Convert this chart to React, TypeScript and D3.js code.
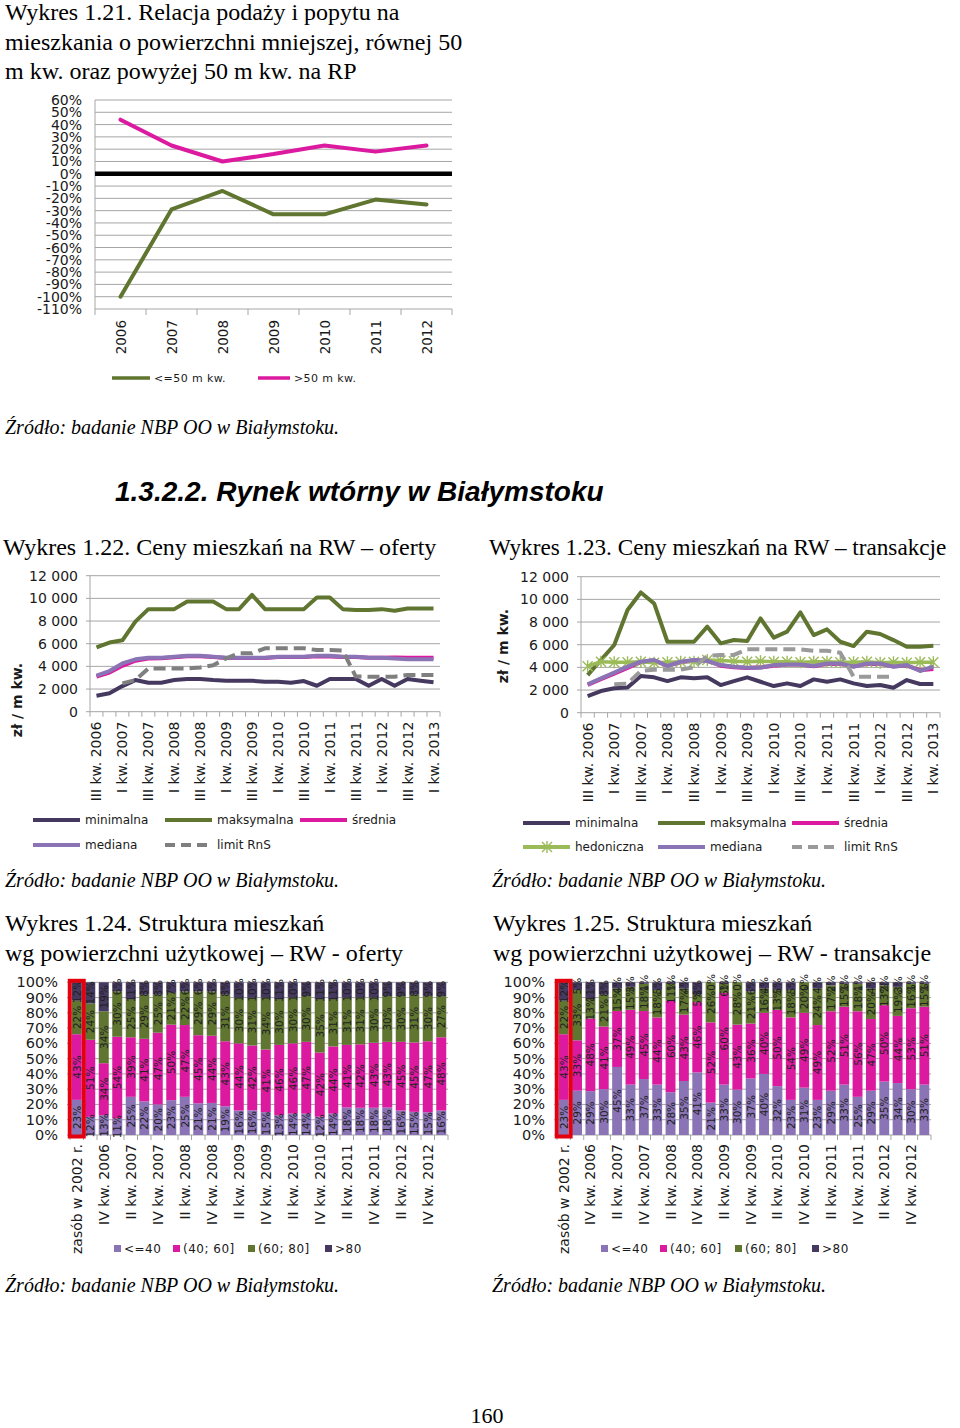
import React from "react";
import * as d3 from "d3";

const SANS = "'DejaVu Sans', Verdana, sans-serif";
const SERIF = "'Liberation Serif', 'Times New Roman', serif";

const C_GREEN = "#5f7530";
const C_MAGENTA = "#dc1aa0";
const C_LILAC = "#8a74b6";
const C_DARK = "#46395f";
const C_GRAY = "#7f7f7f";
const C_HEDON = "#9bbb59";
const C_GRID = "#a6a6a6";
const C_TEXT = "#1a1a1a";

// ---------- Wykres 1.21
const years = ["2006", "2007", "2008", "2009", "2010", "2011", "2012"];
const pctTicks = [60, 50, 40, 30, 20, 10, 0, -10, -20, -30, -40, -50, -60, -70, -80, -90, -100, -110];
const upTo50 = [-100, -29, -14, -33, -33, -21, -25];
const over50 = [44, 23, 10, 16, 23, 18, 23];

// ---------- Wykres 1.22 / 1.23
const quarters = [
  "III kw. 2006", "IV kw. 2006",
  "I kw. 2007", "II kw. 2007", "III kw. 2007", "IV kw. 2007",
  "I kw. 2008", "II kw. 2008", "III kw. 2008", "IV kw. 2008",
  "I kw. 2009", "II kw. 2009", "III kw. 2009", "IV kw. 2009",
  "I kw. 2010", "II kw. 2010", "III kw. 2010", "IV kw. 2010",
  "I kw. 2011", "II kw. 2011", "III kw. 2011", "IV kw. 2011",
  "I kw. 2012", "II kw. 2012", "III kw. 2012", "IV kw. 2012",
  "I kw. 2013",
];
const priceTicks = [0, 2000, 4000, 6000, 8000, 10000, 12000];

const offerMin = [1410, 1620, 2260, 2790, 2560, 2560, 2790, 2880, 2880, 2790, 2730, 2730, 2730, 2650, 2650, 2560, 2700, 2290, 2880, 2880, 2880, 2290, 2880, 2290, 2880, 2730, 2590];
const offerMax = [5670, 6100, 6300, 7950, 9050, 9050, 9050, 9730, 9730, 9730, 9050, 9050, 10300, 9050, 9050, 9050, 9050, 10080, 10080, 9050, 8970, 8970, 9050, 8900, 9100, 9100, 9100];
const offerMean = [3100, 3450, 4050, 4500, 4700, 4720, 4800, 4900, 4900, 4820, 4730, 4730, 4730, 4740, 4820, 4830, 4830, 4900, 4880, 4820, 4820, 4760, 4760, 4780, 4750, 4750, 4750];
const offerMedian = [3180, 3590, 4260, 4620, 4760, 4760, 4850, 4940, 4940, 4850, 4760, 4760, 4760, 4760, 4850, 4850, 4850, 4940, 4940, 4850, 4850, 4760, 4760, 4700, 4620, 4620, 4620];
const offerLimit = [null, null, 2500, 2800, 3820, 3820, 3820, 3820, 3900, 4100, 4700, 5150, 5150, 5590, 5590, 5590, 5590, 5440, 5440, 5400, 3100, 3090, 3090, 3090, 3230, 3230, 3230];

const transMin = [1470, 1910, 2150, 2230, 3230, 3120, 2790, 3120, 3030, 3120, 2440, 2790, 3120, 2730, 2350, 2590, 2350, 2940, 2730, 2940, 2590, 2350, 2440, 2200, 2880, 2530, 2530];
const transMax = [3320, 4650, 5970, 9060, 10610, 9640, 6260, 6260, 6260, 7590, 6120, 6410, 6320, 8320, 6620, 7150, 8850, 6850, 7350, 6260, 5880, 7150, 6940, 6410, 5820, 5820, 5910];
const transMean = [2450, 2950, 3450, 3950, 4450, 4600, 4150, 4450, 4600, 4600, 4150, 4000, 3950, 4000, 4150, 4250, 4250, 4100, 4300, 4300, 4100, 4300, 4300, 4100, 4150, 3750, 3850];
const transHedonic = [4100, 4500, 4450, 4450, 4500, 4400, 4450, 4500, 4500, 4650, 4600, 4550, 4500, 4550, 4500, 4500, 4450, 4500, 4500, 4450, 4450, 4500, 4400, 4450, 4400, 4450, 4450];
const transMedian = [2500, 3030, 3530, 4060, 4500, 4650, 4120, 4500, 4650, 4560, 4200, 4060, 3970, 3970, 4200, 4260, 4260, 4120, 4350, 4350, 4060, 4350, 4350, 4060, 4200, 3680, 4060];
const transLimit = [null, null, 2500, 2550, 3700, 3800, 3800, 3800, 4000, 5000, 5100, 5100, 5590, 5590, 5590, 5590, 5590, 5470, 5470, 5290, 3180, 3180, 3180, 3180, null, null, null];

// ---------- Wykres 1.24 / 1.25
const stackCats = ["zasób w 2002 r.", ...quarters];
const shareTicks = [0, 10, 20, 30, 40, 50, 60, 70, 80, 90, 100];
const sizeKeys = ["<=40", "(40; 60]", "(60; 80]", ">80"];
const sizeColors = [C_LILAC, C_MAGENTA, C_GREEN, C_DARK];

const offerLe40 = [23, 12, 13, 11, 25, 22, 20, 23, 25, 21, 21, 19, 16, 16, 15, 13, 14, 14, 12, 14, 18, 18, 18, 18, 16, 15, 15, 16];
const offer40to60 = [43, 51, 34, 54, 39, 41, 47, 50, 47, 45, 44, 43, 44, 42, 41, 46, 46, 47, 42, 44, 41, 42, 43, 43, 45, 45, 47, 48];
const offer60to80 = [22, 24, 34, 30, 25, 29, 25, 21, 22, 29, 29, 31, 30, 31, 34, 30, 30, 30, 35, 31, 31, 31, 30, 30, 30, 31, 30, 27];
const offerGt80 = [12, 14, 19, 6, 11, 8, 8, 7, 6, 6, 6, 8, 10, 10, 10, 11, 10, 9, 11, 11, 10, 10, 10, 9, 9, 8, 9, 9];

const transLe40 = [23, 29, 29, 30, 45, 33, 37, 33, 28, 35, 41, 21, 33, 30, 37, 40, 32, 23, 31, 23, 29, 33, 25, 29, 35, 34, 30, 33];
const trans40to60 = [43, 33, 48, 41, 37, 49, 45, 44, 60, 43, 46, 52, 60, 43, 36, 40, 50, 54, 49, 49, 52, 51, 56, 47, 50, 44, 53, 51];
const trans60to80 = [22, 33, 13, 21, 15, 15, 18, 18, 11, 17, 5, 26, 6, 28, 21, 16, 13, 18, 20, 24, 17, 15, 18, 20, 13, 19, 16, 15];
const transGt80 = [12, 5, 11, 8, 4, 3, 1, 5, 1, 4, 8, 0, 1, 0, 6, 4, 5, 5, 0, 4, 2, 1, 1, 4, 2, 3, 1, 1];

const fmtThousands = d3.formatLocale({ thousands: "\u00a0", grouping: [3], decimal: ",", currency: ["", ""] }).format(",");

type Series = { values: (number | null)[]; color: string; width?: number; dash?: string; marker?: boolean };

function Chart21() {
  const left = 95, right = 452, top = 100, bottom = 309;
  const x = d3.scaleBand().domain(years).range([left, right]);
  const y = d3.scaleLinear().domain([-110, 60]).range([bottom, top]);
  const cx = (i: number) => (x(years[i]) as number) + x.bandwidth() / 2;
  const line = d3.line<number>().x((_, i) => cx(i)).y(d => y(d));
  return (
    <g>
      {pctTicks.map(t => (
        <line key={"g" + t} x1={left} x2={right} y1={y(t)} y2={y(t)} stroke={C_GRID} />
      ))}
      <line x1={left} x2={left} y1={top} y2={bottom} stroke={C_GRID} />
      {years.map(yr => (
        <line key={"t" + yr} x1={x(yr)} x2={x(yr)} y1={bottom} y2={bottom + 6} stroke={C_GRID} />
      ))}
      <line x1={right} x2={right} y1={bottom} y2={bottom + 6} stroke={C_GRID} />
      <line x1={left} x2={right} y1={y(0)} y2={y(0)} stroke="#000" strokeWidth={4.5} />
      {pctTicks.map(t => (
        <text key={"l" + t} x={left - 13} y={y(t)} textAnchor="end" dominantBaseline="central" fontSize={14} fill={C_TEXT}>
          {t + "%"}
        </text>
      ))}
      {years.map((yr, i) => (
        <text key={"x" + yr} transform={`translate(${cx(i)},${bottom + 11}) rotate(-90)`} textAnchor="end" dominantBaseline="central" fontSize={13.5} fill={C_TEXT}>
          {yr}
        </text>
      ))}
      <path d={line(upTo50) || ""} fill="none" stroke={C_GREEN} strokeWidth={4} strokeLinejoin="round" strokeLinecap="round" />
      <path d={line(over50) || ""} fill="none" stroke={C_MAGENTA} strokeWidth={4} strokeLinejoin="round" strokeLinecap="round" />
      <line x1={112} x2={150} y1={378} y2={378} stroke={C_GREEN} strokeWidth={3.5} />
      <text x={154} y={378} dominantBaseline="central" fontSize={11} letterSpacing={0.4} fill={C_TEXT}>{"<=50 m kw."}</text>
      <line x1={258} x2={290} y1={378} y2={378} stroke={C_MAGENTA} strokeWidth={3.5} />
      <text x={294} y={378} dominantBaseline="central" fontSize={11} letterSpacing={0.4} fill={C_TEXT}>{">50 m kw."}</text>
    </g>
  );
}

function Asterisk({ x, y, color }: { x: number; y: number; color: string }) {
  const s = 5;
  return (
    <g stroke={color} strokeWidth={1.4}>
      <line x1={x - s} x2={x + s} y1={y - s} y2={y + s} />
      <line x1={x - s} x2={x + s} y1={y + s} y2={y - s} />
      <line x1={x} x2={x} y1={y - s - 1} y2={y + s + 1} />
    </g>
  );
}

function PriceChart({ left, right, top, bottom, series, titleX, titleY }: { left: number; right: number; top: number; bottom: number; series: Series[]; titleX: number; titleY: number }) {
  const x = d3.scaleBand().domain(quarters).range([left, right]);
  const y = d3.scaleLinear().domain([0, 12000]).range([bottom, top]);
  const cx = (i: number) => (x(quarters[i]) as number) + x.bandwidth() / 2;
  const line = d3.line<number | null>().defined(d => d != null).x((_, i) => cx(i)).y(d => y(d as number));
  return (
    <g>
      {priceTicks.map(t => (
        <line key={"g" + t} x1={left} x2={right} y1={y(t)} y2={y(t)} stroke={C_GRID} />
      ))}
      <line x1={left} x2={left} y1={top} y2={bottom} stroke={C_GRID} />
      {priceTicks.map(t => (
        <line key={"k" + t} x1={left - 4} x2={left} y1={y(t)} y2={y(t)} stroke={C_GRID} />
      ))}
      {quarters.map(q => (
        <line key={"t" + q} x1={x(q)} x2={x(q)} y1={bottom} y2={bottom + 5} stroke={C_GRID} />
      ))}
      <line x1={right} x2={right} y1={bottom} y2={bottom + 5} stroke={C_GRID} />
      {priceTicks.map(t => (
        <text key={"l" + t} x={left - 12} y={y(t)} textAnchor="end" dominantBaseline="central" fontSize={14} fill={C_TEXT}>
          {fmtThousands(t)}
        </text>
      ))}
      {quarters.map((q, i) => i % 2 === 0 ? (
        <text key={"x" + q} transform={`translate(${cx(i)},${bottom + 10}) rotate(-90)`} textAnchor="end" dominantBaseline="central" fontSize={14} fill={C_TEXT}>
          {q}
        </text>
      ) : null)}
      {series.map((s, si) => (
        <g key={"s" + si}>
          <path d={line(s.values) || ""} fill="none" stroke={s.color} strokeWidth={s.width || 4} strokeDasharray={s.dash} strokeLinejoin="round" />
          {s.marker && s.values.map((v, i) => v == null ? null : <Asterisk key={i} x={cx(i)} y={y(v)} color={s.color} />)}
        </g>
      ))}
      <text transform={`translate(${titleX},${titleY}) rotate(-90)`} textAnchor="middle" dominantBaseline="central" fontSize={14} fontWeight="bold" fill={C_TEXT}>
        zł / m kw.
      </text>
    </g>
  );
}

type LegendItem = { x: number; y: number; color: string; label: string; dash?: string; marker?: boolean };

function LineLegend({ items }: { items: LegendItem[] }) {
  return (
    <g>
      {items.map(it => (
        <g key={it.label}>
          <line x1={it.x} x2={it.x + 47} y1={it.y} y2={it.y} stroke={it.color} strokeWidth={4} strokeDasharray={it.dash} />
          {it.marker && <Asterisk x={it.x + 24} y={it.y} color={it.color} />}
          <text x={it.x + 52} y={it.y} dominantBaseline="central" fontSize={12} fill={C_TEXT}>{it.label}</text>
        </g>
      ))}
    </g>
  );
}

function StackChart({ left, right, top, bottom, cols }: { left: number; right: number; top: number; bottom: number; cols: number[][] }) {
  const rows = stackCats.map((c, i) => {
    const r: any = { cat: c };
    sizeKeys.forEach((k, j) => { r[k] = cols[j][i]; });
    return r;
  });
  const stacked = d3.stack<any>().keys(sizeKeys).offset(d3.stackOffsetExpand)(rows);
  const x = d3.scaleBand().domain(stackCats).range([left, right]).paddingInner(0.26).paddingOuter(0.13);
  const y = d3.scaleLinear().domain([0, 1]).range([bottom, top]);
  const step = x.step();
  const bw = x.bandwidth();
  return (
    <g>
      {shareTicks.map(t => (
        <line key={"g" + t} x1={left - 3} x2={right} y1={y(t / 100)} y2={y(t / 100)} stroke={C_GRID} />
      ))}
      {stackCats.map((c, i) => (
        <line key={"t" + i} x1={left + i * step} x2={left + i * step} y1={bottom} y2={bottom + 5} stroke={C_GRID} />
      ))}
      <line x1={right} x2={right} y1={bottom} y2={bottom + 5} stroke={C_GRID} />
      {shareTicks.map(t => (
        <text key={"l" + t} x={left - 12} y={y(t / 100)} textAnchor="end" dominantBaseline="central" fontSize={14.5} fill={C_TEXT}>
          {t + "%"}
        </text>
      ))}
      {stacked.map((layer, li) => (
        <g key={layer.key} fill={sizeColors[li]}>
          {layer.map((d, i) => (
            <rect key={i} x={x(stackCats[i])} width={bw} y={y(d[1])} height={Math.max(0, y(d[0]) - y(d[1]))} />
          ))}
        </g>
      ))}
      {stacked.map((layer, li) => (
        <g key={"lab" + layer.key}>
          {layer.map((d, i) => {
            const cx = (x(stackCats[i]) as number) + bw / 2;
            const cy = (y(d[0]) + y(d[1])) / 2;
            return (
              <text key={i} transform={`translate(${cx},${cy}) rotate(-90)`} textAnchor="middle" dominantBaseline="central" fontSize={10.5} fill="#222">
                {cols[li][i] + "%"}
              </text>
            );
          })}
        </g>
      ))}
      <rect x={(x(stackCats[0]) as number) - 2} y={top - 1.5} width={bw + 4} height={bottom - top + 3} fill="none" stroke="#e3000f" strokeWidth={4} />
      {stackCats.map((c, i) => i % 2 === 0 ? (
        <text key={"x" + i} transform={`translate(${(x(c) as number) + bw / 2},${bottom + 9}) rotate(-90)`} textAnchor="end" dominantBaseline="central" fontSize={14} fill={C_TEXT}>
          {c}
        </text>
      ) : null)}
      {sizeKeys.map((k, i) => {
        const lx = [left + 44, left + 103, left + 178, left + 255][i];
        return (
          <g key={"leg" + k}>
            <rect x={lx} y={1245} width={7} height={7} fill={sizeColors[i]} />
            <text x={lx + 10} y={1249} dominantBaseline="central" fontSize={12} letterSpacing={0.5} fill={C_TEXT}>{k}</text>
          </g>
        );
      })}
    </g>
  );
}

function Title({ x, y, lines, size = 24 }: { x: number; y: number; lines: string[]; size?: number }) {
  return (
    <text x={x} y={y} fontFamily={SERIF} fontSize={size} fill="#000">
      {lines.map((l, i) => (
        <tspan key={i} x={x} dy={i === 0 ? 0 : 29.5}>{l}</tspan>
      ))}
    </text>
  );
}

function Source({ x, y }: { x: number; y: number }) {
  return (
    <text x={x} y={y} fontFamily={SERIF} fontStyle="italic" fontSize={20} fill="#000">
      Źródło: badanie NBP OO w Białymstoku.
    </text>
  );
}

export default function App() {
  return (
    <svg width={960} height={1428} viewBox="0 0 960 1428" fontFamily={SANS}
      style={{ position: "absolute", left: 0, top: 0, background: "#fff" }}>
      <rect width={960} height={1428} fill="#fff" />
      <Title x={5} y={20} lines={["Wykres 1.21. Relacja podaży i popytu na", "mieszkania o powierzchni mniejszej, równej 50", "m kw. oraz powyżej 50 m kw. na RP"]} />
      <Chart21 />
      <Source x={5} y={434} />

      <text x={115} y={501} fontFamily="'Liberation Sans', Arial, sans-serif" fontWeight="bold" fontStyle="italic" fontSize={28} fill="#000">
        1.3.2.2. Rynek wtórny w Białymstoku
      </text>

      <Title x={3} y={555} lines={["Wykres 1.22. Ceny mieszkań na RW – oferty"]} />
      <PriceChart left={90} right={440} top={575.7} bottom={711.7} titleX={17} titleY={700}
        series={[
          { values: offerMin, color: C_DARK },
          { values: offerMax, color: C_GREEN },
          { values: offerMean, color: C_MAGENTA },
          { values: offerMedian, color: C_LILAC },
          { values: offerLimit, color: C_GRAY, dash: "12 6" },
        ]} />
      <LineLegend items={[
        { x: 33, y: 820, color: C_DARK, label: "minimalna" },
        { x: 165, y: 820, color: C_GREEN, label: "maksymalna" },
        { x: 300, y: 820, color: C_MAGENTA, label: "średnia" },
        { x: 33, y: 845, color: C_LILAC, label: "mediana" },
        { x: 165, y: 845, color: C_GRAY, label: "limit RnS", dash: "10 6" },
      ]} />
      <Source x={5} y={887} />

      <Title x={489} y={555} size={23.2} lines={["Wykres 1.23. Ceny mieszkań na RW – transakcje"]} />
      <PriceChart left={581} right={940} top={576.7} bottom={712.7} titleX={503} titleY={646}
        series={[
          { values: transMin, color: C_DARK },
          { values: transMax, color: C_GREEN },
          { values: transMean, color: C_MAGENTA },
          { values: transHedonic, color: C_HEDON, width: 3.5, marker: true },
          { values: transMedian, color: C_LILAC },
          { values: transLimit, color: "#9a9a9a", dash: "12 6" },
        ]} />
      <LineLegend items={[
        { x: 523, y: 823, color: C_DARK, label: "minimalna" },
        { x: 658, y: 823, color: C_GREEN, label: "maksymalna" },
        { x: 792, y: 823, color: C_MAGENTA, label: "średnia" },
        { x: 523, y: 847, color: C_HEDON, label: "hedoniczna", marker: true },
        { x: 658, y: 847, color: C_LILAC, label: "mediana" },
        { x: 792, y: 847, color: "#9a9a9a", label: "limit RnS", dash: "10 6" },
      ]} />
      <Source x={492} y={887} />

      <Title x={5} y={931} lines={["Wykres 1.24. Struktura mieszkań", "wg powierzchni użytkowej – RW - oferty"]} />
      <StackChart left={70} right={448} top={982.3} bottom={1135}
        cols={[offerLe40, offer40to60, offer60to80, offerGt80]} />
      <Source x={5} y={1292} />

      <Title x={493} y={931} lines={["Wykres 1.25. Struktura mieszkań", "wg powierzchni użytkowej – RW - transakcje"]} />
      <StackChart left={557} right={931} top={982.3} bottom={1135}
        cols={[transLe40, trans40to60, trans60to80, transGt80]} />
      <Source x={492} y={1292} />

      <text x={487} y={1423} textAnchor="middle" fontFamily={SERIF} fontSize={22} fill="#000">160</text>
    </svg>
  );
}
